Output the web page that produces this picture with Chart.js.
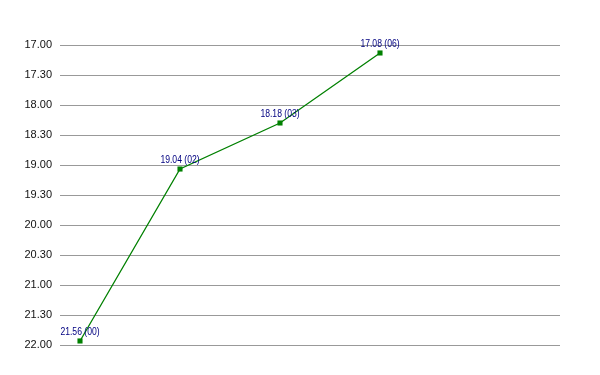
<!DOCTYPE html>
<html>
<head>
<meta charset="utf-8">
<script src="https://cdn.jsdelivr.net/npm/chart.js@4"></script>
<style>
html,body{margin:0;padding:0;background:#fff;}
#wrap{width:600px;height:375px;}
</style>
</head>
<body>
<div id="wrap"><canvas id="c" width="600" height="375"></canvas></div>
<script>
// Race times (mm.ss) and their category codes
const timeLabels = ["21.56", "19.04", "18.18", "17.08"];
const categories = ["00", "02", "03", "06"];
// Same times in decimal minutes (for plotting)
const values = [21.933, 19.067, 18.300, 17.133];
// Y-axis range (decimal minutes)
const yMin = 17, yMax = 22, yStep = 0.5;

function fmtTime(v) {
  const m = Math.floor(v + 1e-9);
  const s = Math.round((v - m) * 60);
  return m + "." + String(s).padStart(2, "0");
}

const FONT = '"Liberation Sans", Arial, sans-serif';

const labelPlugin = {
  id: "pointLabels",
  afterDatasetsDraw(chart) {
    const ctx = chart.ctx;
    const meta = chart.getDatasetMeta(0);
    ctx.save();
    ctx.font = '10px ' + FONT;
    ctx.fillStyle = "#000080";
    ctx.textAlign = "center";
    ctx.textBaseline = "alphabetic";
    meta.data.forEach((pt, i) => {
      ctx.save();
      ctx.translate(pt.x, pt.y - 6);
      ctx.scale(0.86, 1);
      ctx.fillText(timeLabels[i] + " (" + categories[i] + ")", 0, 0);
      ctx.restore();
    });
    ctx.restore();
  }
};

new Chart(document.getElementById("c"), {
  type: "line",
  data: {
    datasets: [{
      data: values.map((v, i) => ({ x: i, y: v })),
      borderColor: "#008000",
      backgroundColor: "#008000",
      borderWidth: 1.3,
      pointStyle: "rect",
      pointRadius: 3.6,
      pointBorderWidth: 0,
      pointHoverRadius: 3.6,
      tension: 0
    }]
  },
  options: {
    responsive: false,
    animation: false,
    events: [],
    layout: { padding: { top: 45, bottom: 30, left: 0, right: 40 } },
    plugins: { legend: { display: false }, tooltip: { enabled: false } },
    scales: {
      x: { type: "linear", display: false, min: -0.2, max: 4.8 },
      y: {
        reverse: true,
        min: yMin, max: yMax,
        afterFit(s) { s.width = 60; },
        border: { display: false },
        grid: { color: "#999999", lineWidth: 1, drawTicks: false },
        ticks: {
          stepSize: yStep,
          padding: 8,
          color: "#111111",
          font: { family: FONT, size: 11 },
          callback: (v) => fmtTime(v)
        }
      }
    }
  },
  plugins: [labelPlugin]
});
</script>
</body>
</html>
